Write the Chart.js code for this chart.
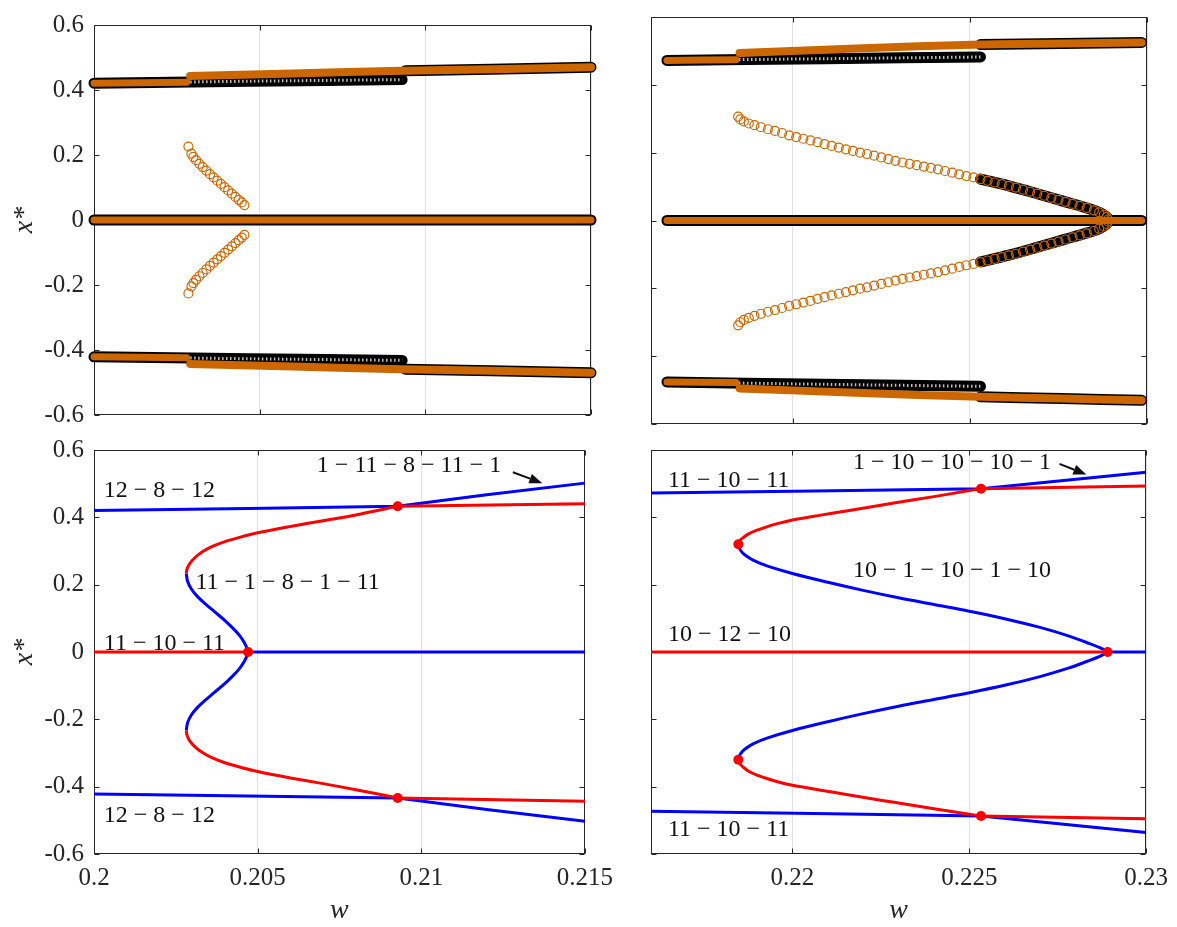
<!DOCTYPE html>
<html>
<head>
<meta charset="utf-8">
<script src="https://cdn.jsdelivr.net/npm/chart.js@4.4.1/dist/chart.umd.min.js"></script>
<style>
  body { margin: 0; background: #fff; }
  #wrap { position: relative; width: 1177px; height: 927px; overflow: hidden; }
  canvas { position: absolute; }
</style>
</head>
<body>
<div id="wrap">
  <canvas id="tl" width="622" height="440" style="left:0;top:0"></canvas>
  <canvas id="tr" width="617" height="440" style="left:560px;top:0"></canvas>
  <canvas id="bl" width="622" height="502" style="left:0;top:425px"></canvas>
  <canvas id="br" width="617" height="502" style="left:560px;top:425px"></canvas>
</div>
<script>
// ---- tick labels ----
const yTicks = [-0.6, -0.4, -0.2, 0, 0.2, 0.4, 0.6];
const xTicksLeft = [0.2, 0.205, 0.21, 0.215];
const xTicksRight = [0.22, 0.225, 0.23];

// ---- top left: sweep markers ----
const tlZeroW = [0.2, 0.215];
const tlZeroX = [0, 0];
const tlBlackAW = [0.2, 0.2047, 0.2093];
const tlBlackAUp = [0.421, 0.427, 0.432];
const tlBlackALow = [-0.421, -0.427, -0.432];
const tlBlackBW = [0.2094, 0.212, 0.215];
const tlBlackBUp = [0.459, 0.464, 0.470];
const tlBlackBLow = [-0.459, -0.464, -0.470];
const tlOrangeAW = [0.2, 0.2028];
const tlOrangeAUp = [0.421, 0.424];
const tlOrangeALow = [-0.421, -0.424];
const tlOrangeBW = [0.2029, 0.206, 0.2093, 0.212, 0.215];
const tlOrangeBUp = [0.443, 0.451, 0.459, 0.464, 0.470];
const tlOrangeBLow = [-0.443, -0.451, -0.459, -0.464, -0.470];
const tlInW = [0.20285, 0.20294, 0.20300, 0.20308, 0.20318, 0.20328, 0.20339, 0.20350, 0.20361,
  0.20372, 0.20383, 0.20394, 0.20405, 0.20416, 0.20427, 0.20437, 0.20446, 0.20454];
const tlInUp = [0.226, 0.204, 0.194, 0.184, 0.173, 0.163, 0.152, 0.141, 0.131,
  0.121, 0.111, 0.101, 0.091, 0.081, 0.071, 0.062, 0.054, 0.046];
const tlInLow = [-0.226, -0.204, -0.194, -0.184, -0.173, -0.163, -0.152, -0.141, -0.131,
  -0.121, -0.111, -0.101, -0.091, -0.081, -0.071, -0.062, -0.054, -0.046];

// ---- top right: sweep markers ----
const trZeroW = [0.21645, 0.22985];
const trZeroX = [0, 0];
const trBlackAW = [0.21645, 0.2209, 0.2253];
const trBlackAUp = [0.472, 0.477, 0.482];
const trBlackALow = [-0.476, -0.483, -0.489];
const trBlackBW = [0.2253, 0.2276, 0.22985];
const trBlackBUp = [0.519, 0.522, 0.525];
const trBlackBLow = [-0.520, -0.525, -0.530];
const trOrangeAW = [0.21645, 0.2184];
const trOrangeAUp = [0.472, 0.474];
const trOrangeALow = [-0.476, -0.478];
const trOrangeBW = [0.2185, 0.2218, 0.2253, 0.2276, 0.22985];
const trOrangeBUp = [0.494, 0.507, 0.519, 0.522, 0.525];
const trOrangeBLow = [-0.495, -0.508, -0.520, -0.525, -0.530];
const trBlackInW = [0.2253, 0.2261, 0.2269, 0.2277, 0.2283, 0.22865, 0.22886, 0.2289,
  0.22886, 0.22865, 0.2283, 0.2277, 0.2269, 0.2261, 0.2253];
const trBlackInX = [0.122, 0.102, 0.079, 0.055, 0.037, 0.024, 0.010, 0,
  -0.010, -0.024, -0.037, -0.055, -0.079, -0.102, -0.122];
const trInW = [0.21846, 0.21852, 0.21862, 0.21876, 0.21892, 0.21910, 0.21930, 0.21950, 0.21970, 0.21990,
  0.22010, 0.22030, 0.22050, 0.22070, 0.22090, 0.22110, 0.22130, 0.22150, 0.22170, 0.22190,
  0.22210, 0.22230, 0.22250, 0.22270, 0.22290, 0.22310, 0.22330, 0.22350, 0.22370, 0.22390,
  0.22410, 0.22430, 0.22450, 0.22470, 0.22490, 0.22510, 0.22530, 0.22550, 0.22570, 0.22590,
  0.22610, 0.22630, 0.22650, 0.22670, 0.22690, 0.22710, 0.22730, 0.22750, 0.22770, 0.22790,
  0.22810, 0.22830, 0.22850, 0.22865, 0.22878, 0.22886, 0.22890];
const trInUp = [0.306, 0.298, 0.292, 0.286, 0.281, 0.275, 0.269, 0.264, 0.258, 0.251,
  0.246, 0.241, 0.236, 0.231, 0.225, 0.220, 0.215, 0.210, 0.205, 0.200,
  0.196, 0.191, 0.186, 0.181, 0.176, 0.171, 0.167, 0.163, 0.159, 0.155,
  0.151, 0.146, 0.141, 0.136, 0.131, 0.127, 0.122, 0.117, 0.112, 0.107,
  0.102, 0.097, 0.091, 0.085, 0.079, 0.073, 0.067, 0.061, 0.055, 0.049,
  0.043, 0.037, 0.030, 0.024, 0.017, 0.010, 0.003];
const trInLow = [-0.309, -0.300, -0.293, -0.287, -0.281, -0.275, -0.269, -0.264, -0.258, -0.252,
  -0.247, -0.242, -0.237, -0.231, -0.226, -0.221, -0.216, -0.211, -0.206, -0.201,
  -0.197, -0.192, -0.187, -0.182, -0.177, -0.172, -0.168, -0.164, -0.160, -0.156,
  -0.152, -0.147, -0.142, -0.137, -0.132, -0.128, -0.123, -0.118, -0.113, -0.108,
  -0.103, -0.098, -0.092, -0.086, -0.080, -0.074, -0.068, -0.062, -0.056, -0.050,
  -0.044, -0.038, -0.031, -0.024, -0.017, -0.010, -0.003];

// ---- bottom left: branches ----
const blBlueTopW = [0.2, 0.2047, 0.20928, 0.212, 0.215];
const blBlueTopX = [0.420, 0.426, 0.4328, 0.467, 0.5016];
const blBlueLowX = [-0.422, -0.428, -0.4335, -0.468, -0.503];
const blRedSideW = [0.20928, 0.215];
const blRedTopX = [0.4328, 0.4406];
const blRedLowX = [-0.4335, -0.443];
const blRedArcW = [0.20282, 0.20284, 0.20292, 0.20308, 0.20330, 0.20360, 0.20400, 0.20450,
  0.20500, 0.20600, 0.20700, 0.20800, 0.20928];
const blRedArcUp = [0.233, 0.246, 0.262, 0.280, 0.297, 0.313, 0.328, 0.342,
  0.354, 0.373, 0.390, 0.407, 0.4328];
const blRedArcLow = [-0.233, -0.247, -0.263, -0.281, -0.298, -0.314, -0.329, -0.343,
  -0.355, -0.374, -0.391, -0.409, -0.4335];
const blBlueSW = [0.20282, 0.20286, 0.20297, 0.20315, 0.20340, 0.20368, 0.20396, 0.20422, 0.20444, 0.20460,
  0.20468, 0.20471, 0.20468, 0.20460, 0.20444, 0.20422, 0.20396, 0.20368, 0.20340, 0.20315,
  0.20297, 0.20286, 0.20282];
const blBlueSX = [0.233, 0.210, 0.188, 0.166, 0.143, 0.120, 0.097, 0.073, 0.050, 0.027,
  0.010, 0, -0.010, -0.027, -0.050, -0.073, -0.097, -0.120, -0.143, -0.166,
  -0.188, -0.210, -0.233];
const blRedZeroW = [0.2, 0.20471];
const blBlueZeroW = [0.20471, 0.215];
const blDotW = [0.20928, 0.20471, 0.20928];
const blDotX = [0.4328, 0, -0.4335];

// ---- bottom right: branches ----
const brBlueTopW = [0.216, 0.2206, 0.22533, 0.2276, 0.23];
const brBlueTopX = [0.472, 0.478, 0.485, 0.509, 0.534];
const brBlueLowX = [-0.473, -0.480, -0.487, -0.511, -0.536];
const brRedSideW = [0.22533, 0.23];
const brRedTopX = [0.485, 0.493];
const brRedLowX = [-0.487, -0.495];
const brRedArcW = [0.21847, 0.21851, 0.21862, 0.21876, 0.21898, 0.21925, 0.21960, 0.22000,
  0.22080, 0.22152, 0.22220, 0.22287, 0.22400, 0.22500, 0.22533];
const brRedArcUp = [0.320, 0.331, 0.341, 0.351, 0.361, 0.371, 0.382, 0.392,
  0.4065, 0.419, 0.431, 0.4425, 0.4615, 0.4795, 0.485];
const brRedArcLow = [-0.320, -0.332, -0.343, -0.354, -0.365, -0.375, -0.386, -0.396,
  -0.4105, -0.423, -0.435, -0.4465, -0.4655, -0.482, -0.487];
const brBlueSW = [0.21847, 0.21853, 0.21866, 0.21890, 0.21930, 0.22000, 0.22100, 0.22200, 0.22300,
  0.22400, 0.22500, 0.22600, 0.22700, 0.22780, 0.22840, 0.22875, 0.22891,
  0.22875, 0.22840, 0.22780, 0.22700, 0.22600, 0.22500, 0.22400, 0.22300, 0.22200,
  0.22100, 0.22000, 0.21930, 0.21890, 0.21866, 0.21853, 0.21847];
const brBlueSX = [0.320, 0.302, 0.288, 0.272, 0.255, 0.233, 0.207, 0.183, 0.161,
  0.141, 0.121, 0.099, 0.073, 0.048, 0.025, 0.010, 0,
  -0.010, -0.025, -0.048, -0.073, -0.099, -0.121, -0.141, -0.161, -0.183,
  -0.207, -0.233, -0.255, -0.272, -0.288, -0.302, -0.320];
const brRedZeroW = [0.216, 0.22891];
const brBlueZeroW = [0.22891, 0.23];
const brDotW = [0.22533, 0.21847, 0.22891, 0.21847, 0.22533];
const brDotX = [0.485, 0.320, 0, -0.320, -0.487];

// ---- annotation texts ----
const blNotes = [
  { text: '12 \u2212 8 \u2212 12', w: 0.2003, x: 0.479 },
  { text: '1 \u2212 11 \u2212 8 \u2212 11 \u2212 1', w: 0.20681, x: 0.554 },
  { text: '11 \u2212 1 \u2212 8 \u2212 1 \u2212 11', w: 0.2031, x: 0.207 },
  { text: '11 \u2212 10 \u2212 11', w: 0.2003, x: 0.025 },
  { text: '12 \u2212 8 \u2212 12', w: 0.2003, x: -0.487 }
];
const blArrows = [{ w0: 0.2128, x0: 0.534, w1: 0.2137, x1: 0.5016 }];
const brNotes = [
  { text: '11 \u2212 10 \u2212 11', w: 0.21648, x: 0.5075 },
  { text: '1 \u2212 10 \u2212 10 \u2212 10 \u2212 1', w: 0.22171, x: 0.5636 },
  { text: '10 \u2212 1 \u2212 10 \u2212 1 \u2212 10', w: 0.22171, x: 0.242 },
  { text: '10 \u2212 12 \u2212 10', w: 0.21648, x: 0.052 },
  { text: '11 \u2212 10 \u2212 11', w: 0.21648, x: -0.529 }
];
const brArrows = [{ w0: 0.22755, x0: 0.559, w1: 0.22831, x1: 0.527 }];

const ORANGE = '#CC6600';
const BLACK = '#000000';
const BLUE = '#0000FF';
const RED = '#FF0000';
const INK = '#262626';
const SERIF = "'Liberation Serif', 'Times New Roman', serif";

Chart.defaults.font.family = SERIF;
Chart.defaults.color = INK;
Chart.defaults.animation = false;
Chart.defaults.events = [];
Chart.defaults.plugins.legend.display = false;
Chart.defaults.plugins.tooltip.enabled = false;

function pts(w, x) {
  return w.map((v, i) => ({ x: v, y: x[i] }));
}

function band(w, x, color, width, order) {
  return { data: pts(w, x), showLine: true, borderColor: color, borderWidth: width,
    borderCapStyle: 'round', borderJoinStyle: 'round', pointRadius: 0, tension: 0.3,
    clip: false, order: order };
}

// white speckle over black-only runs, like the holes of the stacked rings
function speckle(w, x, order) {
  return { data: pts(w, x), showLine: true, borderColor: 'rgba(255,255,255,0.75)', borderWidth: 3,
    borderDash: [1.5, 2.5], pointRadius: 0, tension: 0.3, clip: false, order: order };
}

function rings(w, x, color, order) {
  return { data: pts(w, x), showLine: false, pointRadius: 4.5, pointBorderWidth: 1.2,
    pointBorderColor: color, pointBackgroundColor: 'rgba(0,0,0,0)', clip: false, order: order };
}

function curve(w, x, color, order, tension) {
  return { data: pts(w, x), showLine: true, borderColor: color, borderWidth: 3,
    pointRadius: 0, tension: tension || 0, order: order };
}

function dots(w, x) {
  return { data: pts(w, x), showLine: false, pointRadius: 5, pointBorderWidth: 0,
    pointBackgroundColor: RED, order: 0, clip: false };
}

// box round the axes with inward ticks, as MATLAB draws it
const frame = {
  id: 'frame',
  beforeDatasetsDraw(chart) {
    const { ctx, chartArea: a, scales: { x, y } } = chart;
    const L = Math.round(a.left) + 0.5, R = Math.round(a.right) - 0.5;
    const T = Math.round(a.top) + 0.5, B = Math.round(a.bottom) - 0.5;
    ctx.save();
    ctx.strokeStyle = INK;
    ctx.lineWidth = 1;
    ctx.strokeRect(L, T, R - L, B - T);
    ctx.beginPath();
    x.ticks.forEach(t => {
      const px = Math.round(x.getPixelForValue(t.value)) + 0.5;
      ctx.moveTo(px, B); ctx.lineTo(px, B - 5);
      ctx.moveTo(px, T); ctx.lineTo(px, T + 5);
    });
    y.ticks.forEach(t => {
      const py = Math.round(y.getPixelForValue(t.value)) + 0.5;
      ctx.moveTo(L, py); ctx.lineTo(L + 5, py);
      ctx.moveTo(R, py); ctx.lineTo(R - 5, py);
    });
    ctx.stroke();
    ctx.restore();
  }
};

const notes = {
  id: 'notes',
  afterDatasetsDraw(chart, args, opts) {
    if (!opts || !opts.labels) return;
    const { ctx, scales: { x, y } } = chart;
    ctx.save();
    ctx.fillStyle = '#111';
    ctx.font = '24px ' + SERIF;
    ctx.textBaseline = 'middle';
    ctx.textAlign = 'left';
    opts.labels.forEach(n => ctx.fillText(n.text, x.getPixelForValue(n.w), y.getPixelForValue(n.x)));
    (opts.arrows || []).forEach(ar => {
      const x0 = x.getPixelForValue(ar.w0), y0 = y.getPixelForValue(ar.x0);
      const x1 = x.getPixelForValue(ar.w1), y1 = y.getPixelForValue(ar.x1);
      const ang = Math.atan2(y1 - y0, x1 - x0);
      const hl = 13, hw = 5;
      const bx = x1 - hl * Math.cos(ang), by = y1 - hl * Math.sin(ang);
      ctx.strokeStyle = '#111';
      ctx.lineWidth = 2;
      ctx.beginPath(); ctx.moveTo(x0, y0); ctx.lineTo(bx, by); ctx.stroke();
      ctx.beginPath();
      ctx.moveTo(x1, y1);
      ctx.lineTo(bx + hw * Math.sin(ang), by - hw * Math.cos(ang));
      ctx.lineTo(bx - hw * Math.sin(ang), by + hw * Math.cos(ang));
      ctx.closePath();
      ctx.fill();
    });
    ctx.restore();
  }
};

function axes(xMin, xMax, xTicks, showX, showY, yWidth) {
  return {
    x: {
      type: 'linear', min: xMin, max: xMax,
      afterBuildTicks: s => { s.ticks = xTicks.map(v => ({ value: v })); },
      afterFit: s => { s.height = showX ? 73 : 16; },
      grid: { color: '#e2e2e2', drawTicks: false },
      border: { display: false },
      ticks: { display: showX, padding: 9, font: { size: 25 }, maxRotation: 0, autoSkip: false,
        callback: v => String(v) },
      title: { display: showX, text: 'w', font: { size: 28, style: 'italic' }, padding: { top: 0, bottom: 0 } }
    },
    y: {
      type: 'linear', min: -0.6, max: 0.6,
      afterBuildTicks: s => { s.ticks = yTicks.map(v => ({ value: v })); },
      afterFit: s => { s.width = yWidth; },
      grid: { display: false, drawTicks: false },
      border: { display: false },
      ticks: { display: showY, padding: 10, font: { size: 25 }, callback: v => String(v) },
      title: { display: showY, text: 'x*', font: { size: 28, style: 'italic' }, padding: { top: 8, bottom: 0 } }
    }
  };
}

function make(id, datasets, scales, padding, noteOpts) {
  return new Chart(document.getElementById(id), {
    type: 'scatter',
    data: { datasets: datasets },
    options: {
      responsive: false,
      devicePixelRatio: 1,
      layout: { padding: padding },
      scales: scales,
      plugins: { notes: noteOpts || {} }
    },
    plugins: [frame, notes]
  });
}

// top left
make('tl', [
  band(tlZeroW, tlZeroX, BLACK, 11, 3),
  band(tlBlackAW, tlBlackAUp, BLACK, 11, 3),
  band(tlBlackAW, tlBlackALow, BLACK, 11, 3),
  band(tlBlackBW, tlBlackBUp, BLACK, 11, 3),
  band(tlBlackBW, tlBlackBLow, BLACK, 11, 3),
  speckle(tlBlackAW, tlBlackAUp, 2.5),
  speckle(tlBlackAW, tlBlackALow, 2.5),
  band(tlZeroW, tlZeroX, ORANGE, 7, 2),
  band(tlOrangeAW, tlOrangeAUp, ORANGE, 7, 2),
  band(tlOrangeAW, tlOrangeALow, ORANGE, 7, 2),
  band(tlOrangeBW, tlOrangeBUp, ORANGE, 8, 2),
  band(tlOrangeBW, tlOrangeBLow, ORANGE, 8, 2),
  rings(tlInW, tlInUp, ORANGE, 1),
  rings(tlInW, tlInLow, ORANGE, 1)
], axes(0.2, 0.215, xTicksLeft, false, true, 94), { left: 0, top: 17, right: 31, bottom: 0 });

// top right
make('tr', [
  band(trZeroW, trZeroX, BLACK, 11, 3),
  band(trBlackAW, trBlackAUp, BLACK, 11, 3),
  band(trBlackAW, trBlackALow, BLACK, 11, 3),
  band(trBlackBW, trBlackBUp, BLACK, 11, 3),
  band(trBlackBW, trBlackBLow, BLACK, 11, 3),
  band(trBlackInW, trBlackInX, BLACK, 11, 3),
  speckle(trBlackAW, trBlackAUp, 2.5),
  speckle(trBlackAW, trBlackALow, 2.5),
  band(trZeroW, trZeroX, ORANGE, 7, 2),
  band(trOrangeAW, trOrangeAUp, ORANGE, 7, 2),
  band(trOrangeAW, trOrangeALow, ORANGE, 7, 2),
  band(trOrangeBW, trOrangeBUp, ORANGE, 8, 2),
  band(trOrangeBW, trOrangeBLow, ORANGE, 8, 2),
  rings(trInW, trInUp, ORANGE, 1),
  rings(trInW, trInLow, ORANGE, 1)
], axes(0.216, 0.23, xTicksRight, false, false, 91), { left: 0, top: 17, right: 30, bottom: 0 });

// bottom left
make('bl', [
  curve(blBlueTopW, blBlueTopX, BLUE, 2),
  curve(blBlueTopW, blBlueLowX, BLUE, 2),
  curve(blBlueZeroW, [0, 0], BLUE, 2),
  curve(blBlueSW, blBlueSX, BLUE, 2, 0.35),
  curve(blRedSideW, blRedTopX, RED, 1),
  curve(blRedSideW, blRedLowX, RED, 1),
  curve(blRedZeroW, [0, 0], RED, 1),
  curve(blRedArcW, blRedArcUp, RED, 1, 0.3),
  curve(blRedArcW, blRedArcLow, RED, 1, 0.3),
  dots(blDotW, blDotX)
], axes(0.2, 0.215, xTicksLeft, true, true, 94), { left: 0, top: 25, right: 31, bottom: 0 },
  { labels: blNotes, arrows: blArrows });

// bottom right
make('br', [
  curve(brBlueTopW, brBlueTopX, BLUE, 2),
  curve(brBlueTopW, brBlueLowX, BLUE, 2),
  curve(brBlueZeroW, [0, 0], BLUE, 2),
  curve(brBlueSW, brBlueSX, BLUE, 2, 0.35),
  curve(brRedSideW, brRedTopX, RED, 1),
  curve(brRedSideW, brRedLowX, RED, 1),
  curve(brRedZeroW, [0, 0], RED, 1),
  curve(brRedArcW, brRedArcUp, RED, 1, 0.3),
  curve(brRedArcW, brRedArcLow, RED, 1, 0.3),
  dots(brDotW, brDotX)
], axes(0.216, 0.23, xTicksRight, true, false, 91), { left: 0, top: 25, right: 30, bottom: 0 },
  { labels: brNotes, arrows: brArrows });
</script>
</body>
</html>
